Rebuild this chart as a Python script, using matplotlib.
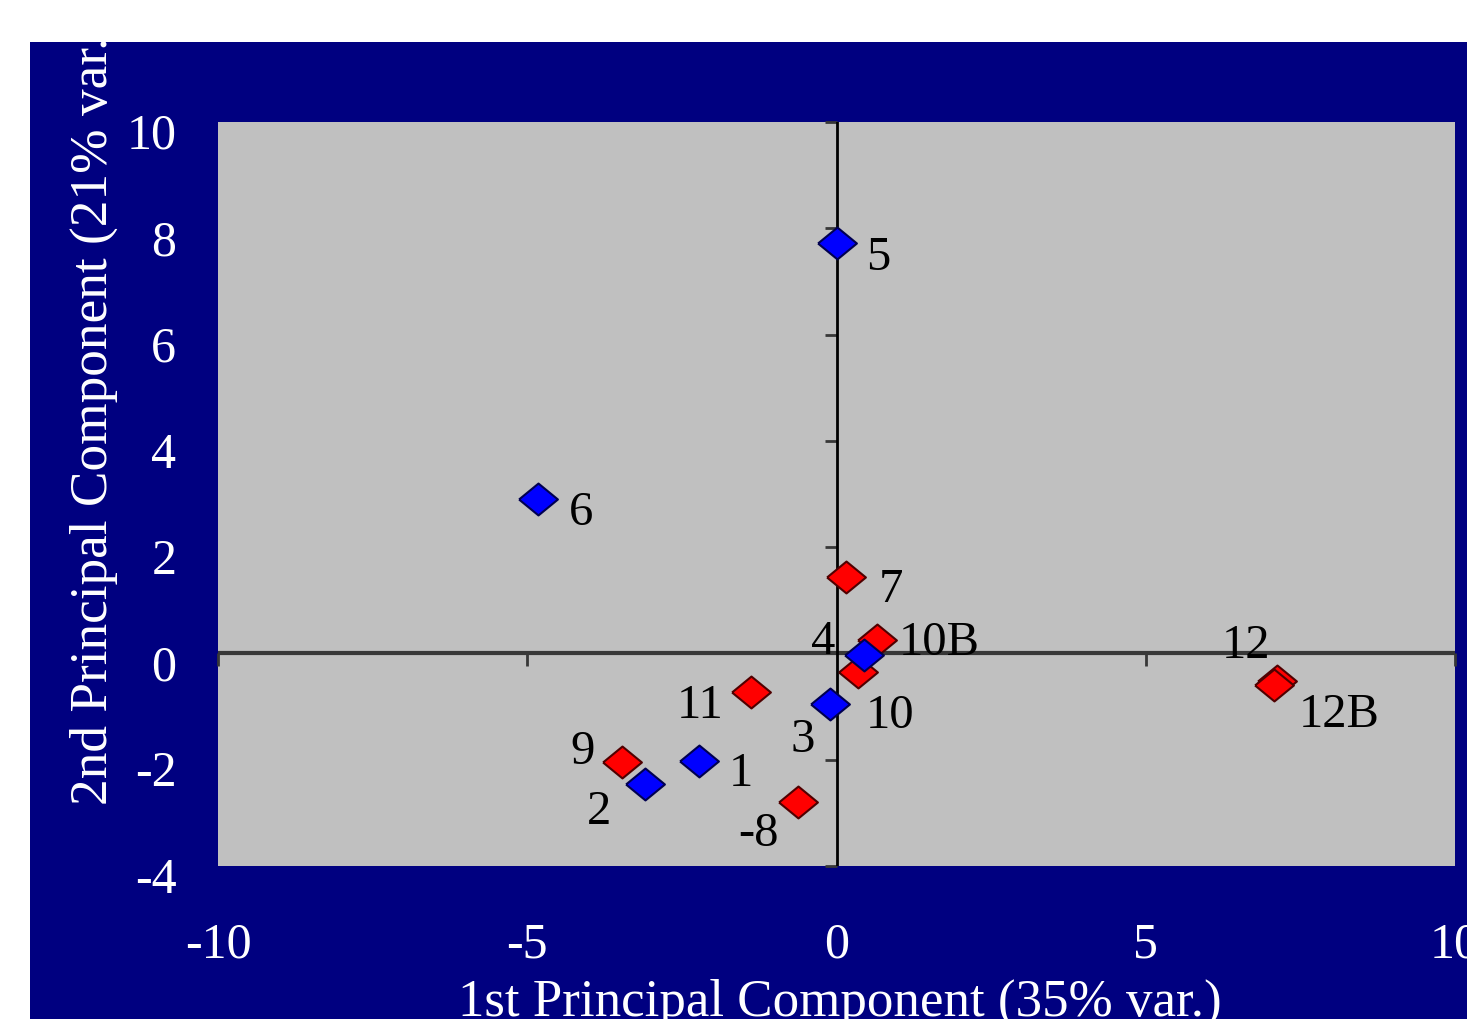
import matplotlib.pyplot as plt
import matplotlib.patches as patches
import matplotlib.transforms as mtransforms

# score points
blue_names = ["5", "6", "1", "2", "3", "4"]
blue_x = [0.0, -4.83, -2.23, -3.10, -0.10, 0.44]
blue_y = [7.73, 2.91, -2.02, -2.46, -0.95, -0.03]

red_names = ["7", "10B", "10", "11", "9", "-8", "12", "12B"]
red_x = [0.15, 0.66, 0.34, -1.39, -3.46, -0.63, 7.12, 7.08]
red_y = [1.44, 0.25, -0.35, -0.72, -2.04, -2.79, -0.52, -0.60]

x_ticks = [-10, -5, 0, 5, 10]
y_ticks = [-4, -2, 0, 2, 4, 6, 8, 10]

# where each label sits relative to its marker (pixels)
label_off = {
    "5": (42, -15), "6": (43, -14), "1": (42, -13), "2": (-46, -28),
    "3": (-28, -36), "4": (-41, 13), "7": (45, -13), "10B": (62, -3),
    "10": (33, -44), "11": (-50, -14), "9": (-40, 10), "-8": (-39, -32),
    "12": (-31, 35), "12B": (65, -30),
}

navy = "#000080"
plt.rcParams["font.family"] = ["Liberation Serif", "DejaVu Serif"]
plt.rcParams["axes.unicode_minus"] = False

# excel style diamond, a bit wider than tall
diamond = [(-1, 0), (0, 0.82), (1, 0), (0, -0.82), (-1, 0)]

fig = plt.figure(figsize=(14.67, 10.19), dpi=100)
fig.patch.set_facecolor("white")
bg = patches.Rectangle((30 / 1467, 0), 1.0, 1 - 42 / 1019, transform=fig.transFigure,
                       facecolor=navy, edgecolor="none", zorder=-10)
fig.patches.append(bg)

ax = fig.add_axes([218 / 1467, 1 - 866 / 1019, (1455 - 218) / 1467, (866 - 122) / 1019])
ax.set_facecolor("#C0C0C0")
ax.set_xlim(-10, 10)
ax.set_ylim(-4, 10)
for s in ax.spines.values():
    s.set_visible(False)

ax.set_xticks(x_ticks)
ax.set_yticks(y_ticks)
ax.tick_params(length=0, colors="white", labelsize=36)
ax.tick_params(axis="x", pad=40)
ax.tick_params(axis="y", pad=30)
shift = mtransforms.ScaledTranslation(0, -9 / 100, fig.dpi_scale_trans)
for lab in ax.get_yticklabels():
    lab.set_transform(lab.get_transform() + shift)

# axes crossing at zero
ax.axhline(0, color="#383838", lw=3, zorder=1)
ax.axvline(0, color="black", lw=2, zorder=1)
sx = ax.secondary_xaxis(0, transform=ax.transData)
sx.set_xticks([t for t in x_ticks if t != 0])
sx.set_xticklabels([])
sx.tick_params(direction="out", length=9, width=2, color="#383838")
sx.spines["bottom"].set_visible(False)
sy = ax.secondary_yaxis(0, transform=ax.transData)
sy.set_yticks([t for t in y_ticks if t != 0])
sy.set_yticklabels([])
sy.tick_params(direction="out", length=9, width=2, color="#383838")
sy.spines["left"].set_visible(False)

ax.plot(red_x, red_y, marker=diamond, ls="none", ms=28, color="#ff0000",
        mec="#500000", mew=1.5, zorder=3)
ax.plot(blue_x, blue_y, marker=diamond, ls="none", ms=28, color="#0000ff",
        mec="#000050", mew=1.5, zorder=3)

for names, xs, ys in [(blue_names, blue_x, blue_y), (red_names, red_x, red_y)]:
    for n, x, y in zip(names, xs, ys):
        dx, dy = label_off[n]
        ax.annotate(n, (x, y), xytext=(dx, dy), textcoords="offset pixels",
                    ha="center", va="center", fontsize=35, color="black", zorder=4)

fig.text(840 / 1467, 1 - 1016 / 1019, "1st Principal Component (35% var.)",
         ha="center", va="baseline", color="white", fontsize=38.2)
yl = fig.text(107 / 1467, 1 - 805 / 1019, "2nd Principal Component (21% var.)",
              rotation=90, rotation_mode="anchor", ha="left", va="baseline",
              color="white", fontsize=38.3)
yl.set_clip_path(bg)

fig.savefig("out.png", dpi=100, facecolor=fig.get_facecolor())
